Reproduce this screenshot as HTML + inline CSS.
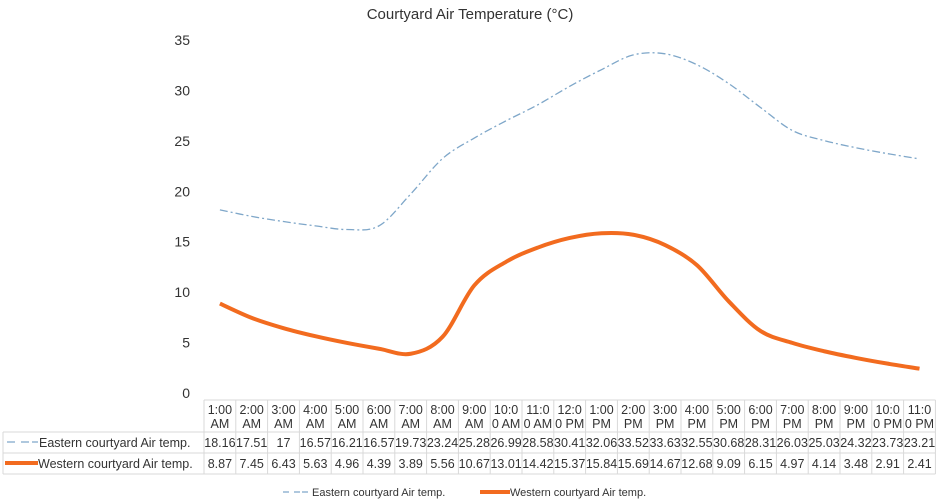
<!DOCTYPE html>
<html><head><meta charset="utf-8"><style>
body{margin:0;background:#fff;}
svg{display:block;font-family:"Liberation Sans",sans-serif;}
</style></head><body>
<svg id="chart" width="941" height="504"></svg>
<script>
const categories=["1:00|AM","2:00|AM","3:00|AM","4:00|AM","5:00|AM","6:00|AM","7:00|AM","8:00|AM","9:00|AM","10:0|0 AM","11:0|0 AM","12:0|0 PM","1:00|PM","2:00|PM","3:00|PM","4:00|PM","5:00|PM","6:00|PM","7:00|PM","8:00|PM","9:00|PM","10:0|0 PM","11:0|0 PM"];
const eastern=[18.16,17.51,17,16.57,16.21,16.57,19.73,23.24,25.28,26.99,28.58,30.41,32.06,33.52,33.63,32.55,30.68,28.31,26.03,25.03,24.32,23.73,23.21];
const western=[8.87,7.45,6.43,5.63,4.96,4.39,3.89,5.56,10.67,13.01,14.42,15.37,15.84,15.69,14.67,12.68,9.09,6.15,4.97,4.14,3.48,2.91,2.41];
const yTicks=[0,5,10,15,20,25,30,35];
const svg=document.getElementById('chart');
const NS='http://www.w3.org/2000/svg';
const x0=204,cw=31.8,yB=393,yT=40,yMax=35;
const X=i=>x0+cw*(i+0.5);
const Y=v=>yB-(v/yMax)*(yB-yT);
function mk(t,a,p){const e=document.createElementNS(NS,t);for(const k in a)e.setAttribute(k,a[k]);(p||svg).appendChild(e);return e;}
let t=mk('text',{x:470,y:19,'text-anchor':'middle','font-size':15,fill:'#333'});t.textContent='Courtyard Air Temperature (°C)';


yTicks.forEach(v=>{const e=mk('text',{x:190,y:Y(v)+5,'text-anchor':'end','font-size':14,fill:'#333'});e.textContent=v;

});
function smooth(vals){let pts=vals.map((v,i)=>[X(i),Y(v)]);let d='M'+pts[0];for(let i=0;i<pts.length-1;i++){const p0=pts[Math.max(0,i-1)],p1=pts[i],p2=pts[i+1],p3=pts[Math.min(pts.length-1,i+2)];const c1=[p1[0]+(p2[0]-p0[0])/6,p1[1]+(p2[1]-p0[1])/6],c2=[p2[0]-(p3[0]-p1[0])/6,p2[1]-(p3[1]-p1[1])/6];d+=' C'+c1+' '+c2+' '+p2;}return d;}
let pe=mk('path',{d:smooth(eastern),fill:'none',stroke:'#7fa7c9','stroke-width':1.3,'stroke-dasharray':'8 3 2 3'});


let pw=mk('path',{d:smooth(western),fill:'none',stroke:'#f26b1f','stroke-width':4,'stroke-linejoin':'round'});


// table
const tT=400,tH=432,r1=453,r2=474,tR=x0+cw*23;
const g=mk('g',{stroke:'#d9d9d9','stroke-width':1,fill:'none'});


mk('line',{x1:x0,y1:tT,x2:tR,y2:tT},g);
[tH,r1,r2].forEach(y=>mk('line',{x1:3,y1:y,x2:tR,y2:y},g));
mk('line',{x1:3,y1:tH,x2:3,y2:r2},g);
for(let i=0;i<=23;i++)mk('line',{x1:x0+cw*i,y1:tT,x2:x0+cw*i,y2:r2},g);
categories.forEach((c,i)=>{const [a,b]=c.split('|');
const e1=mk('text',{x:X(i),y:414,'text-anchor':'middle','font-size':12.5,fill:'#333'});e1.textContent=a;


const e2=mk('text',{x:X(i),y:428,'text-anchor':'middle','font-size':12.5,fill:'#333'});e2.textContent=b;

});
[[eastern,r1],[western,r2]].forEach(([arr,yb])=>arr.forEach((v,i)=>{const e=mk('text',{x:X(i),y:yb-6,'text-anchor':'middle','font-size':12.5,fill:'#333'});e.textContent=v;

}));
let l1=mk('line',{x1:7,y1:442,x2:38,y2:442,stroke:'#7fa7c9','stroke-width':1.3,'stroke-dasharray':'8 6 8 3'});


t=mk('text',{x:39,y:447,'font-size':12.5,fill:'#333'});t.textContent='Eastern courtyard Air temp.';


let l2=mk('line',{x1:5,y1:463,x2:38,y2:463,stroke:'#f26b1f','stroke-width':4});


t=mk('text',{x:38,y:468,'font-size':12.5,fill:'#333'});t.textContent='Western courtyard Air temp.';


// legend
let g2=mk('g',{});


mk('line',{x1:283,y1:492,x2:310,y2:492,stroke:'#7fa7c9','stroke-width':1.3,'stroke-dasharray':'6 5 6 2'},g2);
t=mk('text',{x:312,y:496,'font-size':11,fill:'#333'},g2);t.textContent='Eastern courtyard Air temp.';


mk('line',{x1:480,y1:492,x2:510,y2:492,stroke:'#f26b1f','stroke-width':4},g2);
t=mk('text',{x:510,y:496,'font-size':11,fill:'#333'},g2);t.textContent='Western courtyard Air temp.';


</script>
</body></html>
